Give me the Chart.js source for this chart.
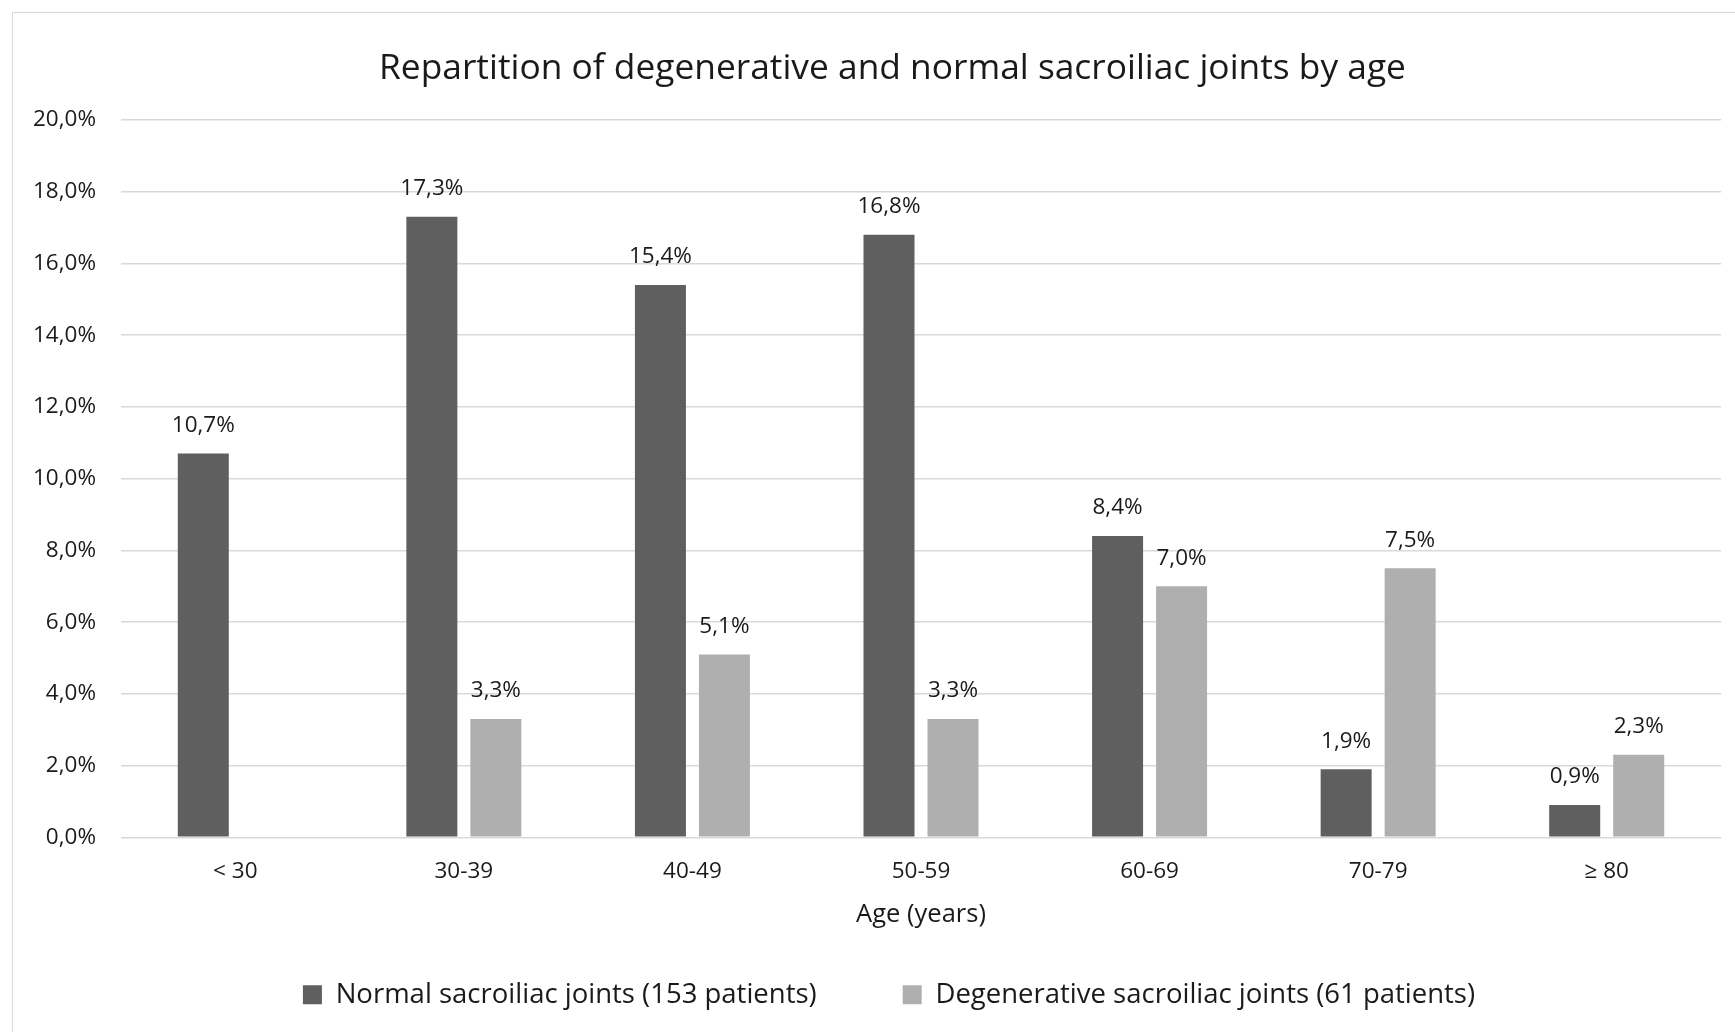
<!DOCTYPE html>
<html>
<head>
<meta charset="utf-8">
<script src="https://cdn.jsdelivr.net/npm/chart.js@4.4.1/dist/chart.umd.min.js"></script>
<style>
  html, body { margin: 0; padding: 0; background: #ffffff; overflow: hidden; }
  #frame { position: absolute; left: 12px; top: 12px; width: 1800px; height: 1100px; border: 1.5px solid #d9d9d9; box-sizing: border-box; }
  #wrap { position: absolute; left: 0; top: 0; width: 1735px; height: 1032px; }
</style>
</head>
<body>
<div id="frame"></div>
<div id="wrap"><canvas id="c" width="1735" height="1032"></canvas></div>
<script>
const categories = ['< 30', '30-39', '40-49', '50-59', '60-69', '70-79', '\u2265 80'];
const normalValues = [10.7, 17.3, 15.4, 16.8, 8.4, 1.9, 0.9];
const degenerativeValues = [null, 3.3, 5.1, 3.3, 7.0, 7.5, 2.3];
const yTickLabels = ['0,0%', '2,0%', '4,0%', '6,0%', '8,0%', '10,0%', '12,0%', '14,0%', '16,0%', '18,0%', '20,0%'];
const seriesNames = ['Normal sacroiliac joints (153 patients)', 'Degenerative sacroiliac joints (61 patients)'];
const chartTitle = 'Repartition of degenerative and normal sacroiliac joints by age';
const xAxisTitle = 'Age (years)';

const FONT = "'Open Sans', sans-serif";
const TEXT = '#1a1a1a';

function fmt(v) { return v.toFixed(1).replace('.', ',') + '%'; }

const valueLabels = {
  id: 'valueLabels',
  afterDatasetsDraw(chart) {
    const ctx = chart.ctx;
    ctx.save();
    ctx.font = '22.5px ' + FONT;
    ctx.fillStyle = TEXT;
    ctx.textAlign = 'center';
    ctx.textBaseline = 'middle';
    chart.data.datasets.forEach((ds, di) => {
      const meta = chart.getDatasetMeta(di);
      meta.data.forEach((el, i) => {
        const v = ds.data[i];
        if (v === null || v === undefined) return;
        ctx.fillText(fmt(v), el.x, el.y - 28);
      });
    });
    ctx.restore();
  }
};

// centre title and legend over the frame (like the original), not the whole canvas
const centreBlocks = {
  id: 'centreBlocks',
  afterLayout(chart) {
    if (chart.titleBlock) chart.titleBlock.left = 64;
    if (chart.legend) chart.legend.left = 57;
  }
};

Chart.defaults.font.family = FONT;
Chart.defaults.color = TEXT;

new Chart(document.getElementById('c'), {
  type: 'bar',
  data: {
    labels: categories,
    datasets: [
      { label: seriesNames[0], data: normalValues, backgroundColor: '#5f5f5f', borderWidth: 0 },
      { label: seriesNames[1], data: degenerativeValues, backgroundColor: '#afafaf', borderWidth: 0 }
    ]
  },
  options: {
    responsive: false,
    animation: false,
    devicePixelRatio: 1,
    categoryPercentage: 0.56,
    barPercentage: 0.797,
    layout: { padding: { left: 0, right: 14, top: 0, bottom: 13.5 } },
    plugins: {
      title: {
        display: true,
        text: chartTitle,
        color: TEXT,
        font: { size: 35.35, weight: 'normal', family: FONT },
        padding: { top: 48.1, bottom: 29.5 }
      },
      legend: {
        position: 'bottom',
        labels: {
          color: TEXT,
          font: { size: 27.5, family: FONT },
          boxWidth: 19,
          boxHeight: 19,
          padding: 86
        }
      },
      tooltip: { enabled: false }
    },
    scales: {
      x: {
        grid: { display: false, drawTicks: false },
        border: { display: false },
        ticks: { color: TEXT, font: { size: 22.5, family: FONT }, padding: 20.5, maxRotation: 0 },
        title: {
          display: true,
          text: xAxisTitle,
          color: TEXT,
          font: { size: 25.5, family: FONT },
          padding: { top: 0, bottom: -35.35 }
        },
        afterFit(scale) { scale.height = 57.7; }
      },
      y: {
        min: 0,
        max: 20,
        grid: { color: '#d9d9d9', lineWidth: 1.5, drawTicks: false },
        border: { display: false },
        ticks: {
          stepSize: 2,
          color: TEXT,
          font: { size: 22.5, family: FONT },
          padding: 25,
          callback: (v, i) => yTickLabels[i]
        },
        afterFit(scale) { scale.width = 121; }
      }
    }
  },
  plugins: [valueLabels, centreBlocks]
});
</script>
</body>
</html>
